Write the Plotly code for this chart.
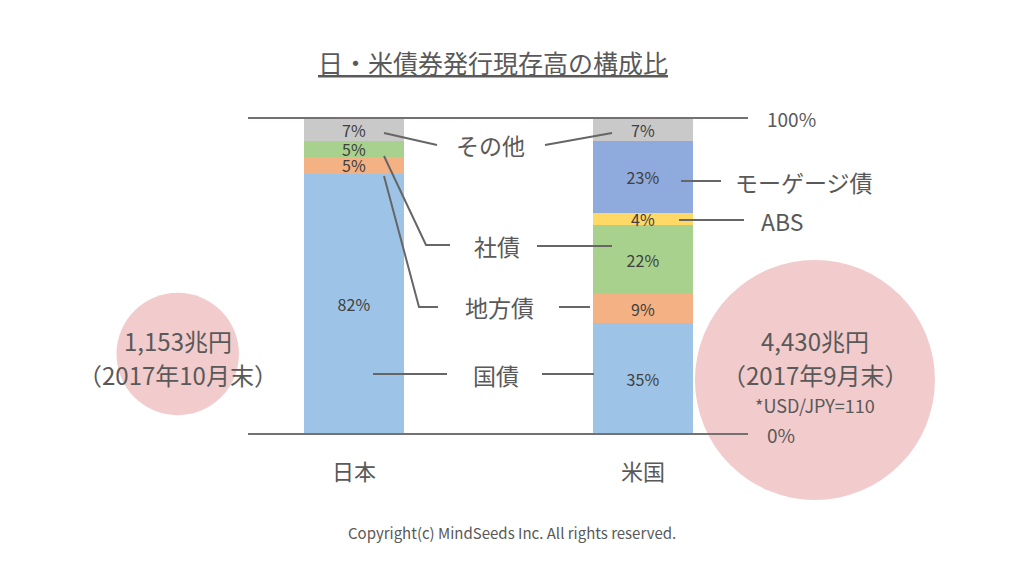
"""日・米債券発行現存高の構成比 - stacked share bars with total bubbles."""

import math
import plotly.graph_objects as go

countries = ["日本", "米国"]
segments = ["国債", "地方債", "社債", "ABS", "モーゲージ債", "その他"]
japan_share = [82.4, 5.2, 5.1, None, None, 7.3]
us_share = [35.1, 9.2, 21.8, 3.8, 22.7, 7.4]
segment_colors = ["#9dc3e6", "#f4b183", "#a9d18e", "#ffd966", "#8faadc", "#c9c9c9"]

total_trillion_yen = [1153, 4430]
total_labels = ["1,153兆円", "4,430兆円"]
as_of_labels = ["（2017年10月末）", "（2017年9月末）"]
fx_note = "*USD/JPY=110"

# page has an 8px body margin, so the figure is drawn slightly smaller
OFF = 8
W, H = 1024 - OFF, 576 - OFF
FONT = "Noto Sans CJK JP"
TEXT = "#595959"


def px(x, y):
    """screen pixel -> paper coords"""
    return (x - OFF) / W, 1 - (y - OFF) / H


# screen pixels for the bar frame
left, right, top, bottom = 248, 748, 118, 434
bar0 = 354          # centre of first bar
bar_gap = 289       # px between bar centres
pct_px = (bottom - top) / 100.0

x_range = [(OFF - bar0) / bar_gap, (1024 - bar0) / bar_gap]
y_range = [-(576 - bottom) / pct_px, (bottom - OFF) / pct_px]

fig = go.Figure()

# bubbles on base axes (drawn below the bars on the overlay axes)
bubble_x = [-0.61, 1.595]
bubble_y = [25.3, 17.1]
k = 240 / math.sqrt(max(total_trillion_yen))
fig.add_trace(go.Scatter(
    x=bubble_x, y=bubble_y, mode="markers",
    marker=dict(size=[k * math.sqrt(v) for v in total_trillion_yen],
                color="#f2cbcc", line=dict(width=0), opacity=1),
    hoverinfo="skip", showlegend=False,
))

for i, seg in enumerate(segments):
    vals = [japan_share[i], us_share[i]]
    fig.add_trace(go.Bar(
        x=[0, 1], y=vals, name=seg, xaxis="x2", yaxis="y2",
        width=100 / bar_gap,
        marker=dict(color=segment_colors[i], line=dict(width=0)),
        text=[f"{round(v)}%" if v else "" for v in vals],
        textposition="inside", insidetextanchor="middle",
        textangle=0, constraintext="none",
        textfont=dict(family=FONT, size=16, color="#404040"),
        showlegend=False,
    ))

hidden = dict(visible=False, showgrid=False, zeroline=False, automargin=False)
fig.update_layout(
    width=W, height=H, autosize=False,
    margin=dict(l=0, r=0, t=0, b=0, pad=0),
    template="none",
    plot_bgcolor="white", paper_bgcolor="white",
    barmode="stack",
    font=dict(family=FONT, color=TEXT),
    xaxis=dict(domain=[0, 1], range=x_range, **hidden),
    yaxis=dict(domain=[0, 1], range=y_range, **hidden),
    xaxis2=dict(overlaying="x", range=x_range, **hidden),
    yaxis2=dict(overlaying="y", range=y_range, **hidden),
)

# 0% / 100% lines and their labels
for yv, lab in ((0, "0%"), (100, "100%")):
    fig.add_shape(type="line", xref="paper", yref="y2",
                  x0=px(left, 0)[0], x1=px(right, 0)[0], y0=yv, y1=yv,
                  line=dict(color="#767171", width=2), layer="above")
    fig.add_annotation(x=px(765, 0)[0], y=yv, xref="paper", yref="y2",
                       text=lab, showarrow=False, xanchor="left",
                       yanchor="middle", font=dict(size=19, color=TEXT))

# country names under the bars
for i, name in enumerate(countries):
    fig.add_annotation(x=i, y=px(0, 470)[1], xref="x", yref="paper",
                       text=name, showarrow=False, xanchor="center",
                       yanchor="middle", font=dict(size=22, color=TEXT))

# leader lines (screen pixel paths)
leaders = [
    [(384, 133), (437, 145)],
    [(545, 145), (612, 133)],
    [(384, 156), (426, 245), (450, 245)],
    [(537, 246), (612, 246)],
    [(384, 176), (419, 307), (438, 307)],
    [(559, 307), (590, 307)],
    [(373, 374), (447, 374)],
    [(542, 374), (594, 374)],
    [(681, 181), (721, 181)],
    [(679, 220), (744, 220)],
]
for pts in leaders:
    path = "M " + " L ".join(f"{px(x, y)[0]} {px(x, y)[1]}" for x, y in pts)
    fig.add_shape(type="path", xref="paper", yref="paper", path=path,
                  line=dict(color="#666666", width=2), layer="above")

# segment names
seg_labels = [
    ("その他", 490, 145, "center"),
    ("社債", 497, 246, "center"),
    ("地方債", 499, 307, "center"),
    ("国債", 496, 375, "center"),
    ("モーゲージ債", 733, 182, "left"),
    ("ABS", 759, 221, "left"),
]
for txt, x, y, anchor in seg_labels:
    ax, ay = px(x, y)
    fig.add_annotation(x=ax, y=ay, xref="paper", yref="paper", text=txt,
                       showarrow=False, xanchor=anchor, yanchor="middle",
                       font=dict(size=23, color=TEXT))

# bubble texts
bubble_cx = [178, 815]
for i in range(2):
    for txt, y in ((total_labels[i], 340), (as_of_labels[i], 374)):
        ax, ay = px(bubble_cx[i], y)
        fig.add_annotation(x=ax, y=ay, xref="paper", yref="paper", text=txt,
                           showarrow=False, xanchor="center", yanchor="middle",
                           font=dict(size=24, color=TEXT))
ax, ay = px(815, 405)
fig.add_annotation(x=ax, y=ay, xref="paper", yref="paper", text=fx_note,
                   showarrow=False, xanchor="center", yanchor="middle",
                   font=dict(size=18, color=TEXT))

# title and copyright
ax, ay = px(493, 62)
fig.add_annotation(x=ax, y=ay, xref="paper", yref="paper",
                   text="<u>日・米債券発行現存高の構成比</u>",
                   showarrow=False, xanchor="center", yanchor="middle",
                   font=dict(size=25, color=TEXT))
ax, ay = px(512, 532)
fig.add_annotation(x=ax, y=ay, xref="paper", yref="paper",
                   text="Copyright(c) MindSeeds Inc. All rights reserved.",
                   showarrow=False, xanchor="center", yanchor="middle",
                   font=dict(size=15, color=TEXT))

fig.write_html("out.html")
